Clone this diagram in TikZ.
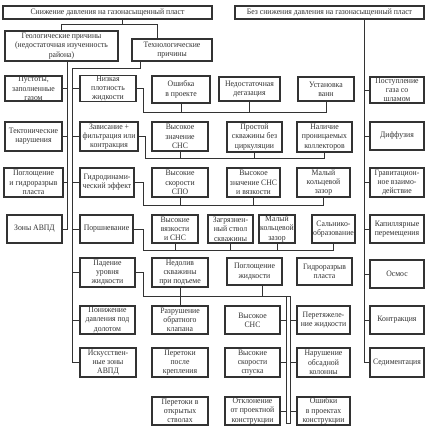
\documentclass[tikz,border=0pt]{standalone}
\usepackage{fontspec}
\setmainfont[FakeStretch=0.93]{Liberation Serif}
\definecolor{ink}{HTML}{333333}
\tikzset{
 bx/.style={draw=ink, line width=1.3pt, fill=white, align=center, inner sep=0.5pt,
   font=\fontsize{8.3}{9.3}\selectfont, text=ink},
 ln/.style={draw=ink, line width=0.8pt},
}
\newcommand\bx[6]{\node[bx,minimum width={#4-#2},minimum height={#5-#3}] (#1) at ({(#2+#4)/2},{(#3+#5)/2}) {#6};}
\begin{document}
\begin{tikzpicture}[x=1pt,y=-1pt]
\useasboundingbox (0,0) rectangle (427,431);
% top
\bx{top1}{3}{6}{212}{19}{Снижение давления на газонасыщенный пласт}
\bx{top2}{235}{6}{424}{19}{Без снижения давления на газонасыщенный пласт}
\bx{geo}{5}{31}{118}{61}{Геологические причины\\(недостаточная изученность\\района)}
\bx{tech}{132}{39}{212}{61}{Технологические\\причины}
% left column
\bx{L1}{5}{76}{62}{101}{Пустоты,\\заполненные\\газом}
\bx{L2}{5}{122}{62}{151}{Тектонические\\нарушения}
\bx{L3}{4}{168}{63}{197}{Поглощение\\и гидроразрыв\\пласта}
\bx{L4}{7}{215}{62}{243}{Зоны АВПД}
% middle column
\bx{M1}{80}{76}{136}{101}{Низкая\\плотность\\жидкости}
\bx{M2}{80}{122}{138}{151}{Зависание +\\фильтрация или\\контракция}
\bx{M3}{80}{168}{134}{197}{Гидродинами-\\ческий эффект}
\bx{M4}{80}{215}{133}{243}{Поршневание}
\bx{M5}{80}{258}{135}{287}{Падение\\уровня\\жидкости}
\bx{M6}{80}{306}{135}{334}{Понижение\\давления под\\долотом}
\bx{M7}{80}{348}{136}{377}{Искусствен-\\ные зоны\\АВПД}
% column C
\bx{C1}{152}{76}{210}{103}{Ошибка\\в проекте}
\bx{C2}{152}{122}{208}{151}{Высокое\\значение\\СНС}
\bx{C3}{152}{168}{208}{197}{Высокие\\скорости\\СПО}
\bx{C4}{152}{215}{198}{243}{Высокие\\вязкости\\и СНС}
\bx{C5}{152}{258}{208}{287}{Недолив\\скважины\\при подъеме}
\bx{C6}{152}{306}{208}{334}{Разрушение\\обратного\\клапана}
\bx{C7}{152}{348}{208}{377}{Перетоки\\после\\крепления}
\bx{C8}{152}{397}{208}{425}{Перетоки в\\открытых\\стволах}
% column D
\bx{D1}{219}{77}{280}{101}{Недостаточная\\дегазация}
\bx{D2}{227}{122}{282}{152}{Простой\\скважины без\\циркуляции}
\bx{D3}{227}{168}{280}{197}{Высокое\\значение СНС\\и вязкости}
\bx{D4}{208}{215}{253}{243}{Загрязнен-\\ный ствол\\скважины}
\bx{D5}{259}{215}{295}{243}{Малый\\кольцевой\\зазор}
\bx{D6}{312}{215}{355}{243}{Сальнико-\\образование}
\bx{D7}{227}{258}{282}{285}{Поглощение\\жидкости}
\bx{D8}{297}{258}{352}{285}{Гидроразрыв\\пласта}
\bx{D9}{225}{306}{280}{334}{Высокое\\СНС}
\bx{D10}{297}{306}{350}{334}{Перетяжеле-\\ние жидкости}
\bx{D11}{225}{348}{280}{377}{Высокие\\скорости\\спуска}
\bx{D12}{297}{348}{350}{377}{Нарушение\\обсадной\\колонны}
\bx{D13}{225}{397}{280}{425}{Отклонение\\от проектной\\конструкции}
\bx{D14}{297}{397}{350}{425}{Ошибки\\в проектах\\конструкции}
% column E
\bx{E1}{298}{77}{354}{101}{Установка\\ванн}
\bx{E2}{297}{122}{352}{152}{Наличие\\проницаемых\\коллекторов}
\bx{E3}{297}{168}{350}{197}{Малый\\кольцевой\\зазор}
% right column
\bx{R1}{370}{77}{424}{103}{Поступление\\газа со\\шламом}
\bx{R2}{370}{122}{424}{150}{Диффузия}
\bx{R3}{370}{168}{424}{197}{Гравитацион-\\ное взаимо-\\действие}
\bx{R4}{370}{215}{424}{243}{Капиллярные\\перемещения}
\bx{R5}{370}{260}{424}{288}{Осмос}
\bx{R6}{370}{306}{424}{334}{Контракция}
\bx{R7}{370}{348}{424}{377}{Седиментация}

% ---- connectors ----
\draw[ln] (top1.south -| 122,0) -- (122,24);
\draw[ln] (geo.north) -- (geo.north |- 0,24) -| (tech.north -| 157,0);
% geological bus
\draw[ln] (geo.south -| 67,0) |- (L4.east);
\foreach \n in {L1,L2,L3} \draw[ln] (\n.east) -- (\n.east -| 67,0);
% technological bus
\draw[ln] (tech.south -| 140,0) |- (72,68) |- (M7.west);
\foreach \n in {M1,M2,M3,M4,M5,M6} \draw[ln] (\n.west) -- (\n.west -| 72,0);
% right bus
\draw[ln] (top2.south -| 364,0) |- (R7.west);
\foreach \n in {R1,R2,R3,R4,R5,R6} \draw[ln] (\n.west) -- (\n.west -| 364,0);
% group 1
\draw[ln] (M1.east) -| (143,112) -| (E1.south);
\foreach \n in {C1,D1} \draw[ln] (\n.south) -- (\n.south |- 0,112);
% group 2
\draw[ln] (M2.east) -| (145,158) -| (E2.south);
\foreach \n in {C2,D2} \draw[ln] (\n.south) -- (\n.south |- 0,158);
% group 3
\draw[ln] (M3.east) -| (143,205) -| (E3.south);
\foreach \n in {C3,D3} \draw[ln] (\n.south) -- (\n.south |- 0,205);
% group 4
\draw[ln] (M4.east) -| (143,250) -| (D6.south);
\foreach \n in {C4,D4,D5} \draw[ln] (\n.south) -- (\n.south |- 0,250);
% group 5
\draw[ln] (M5.east) -| (143,296) -- (290,296) -- (290,423) -- (286,423) -- (286,296);
\draw[ln] (C5.south) -- (C6.north);
\draw[ln] (D7.south -| 262,0) -- (262,296);
\foreach \n in {D9,D11,D13} \draw[ln] (\n.east) -- (\n.east -| 286,0);
\foreach \n in {D10,D12,D14} \draw[ln] (\n.west) -- (\n.west -| 290,0);
\end{tikzpicture}
\end{document}
